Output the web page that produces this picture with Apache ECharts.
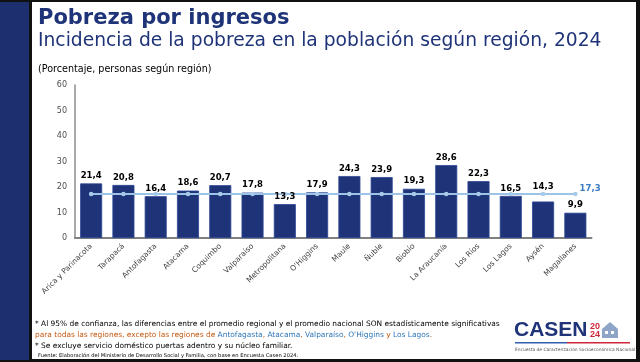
<!DOCTYPE html>
<html>
<head>
<meta charset="utf-8">
<script src="https://cdn.jsdelivr.net/npm/echarts@6/dist/echarts.min.js"></script>
<style>
html,body{margin:0;padding:0;background:#fff;}
#c{width:640px;height:362px;}
</style>
</head>
<body>
<div id="c"></div>
<script>
const categories = ["Arica y Parinacota","Tarapacá","Antofagasta","Atacama","Coquimbo","Valparaíso","Metropolitana","O'Higgins","Maule","Ñuble","Biobío","La Araucanía","Los Ríos","Los Lagos","Aysén","Magallanes"];
const poverty = [21.4,20.8,16.4,18.6,20.7,17.8,13.3,17.9,24.3,23.9,19.3,28.6,22.3,16.5,14.3,9.9];
const nationalAvg = [17.3,17.3,17.3,17.3,17.3,17.3,17.3,17.3,17.3,17.3,17.3,17.3,17.3,17.3,17.3,17.3];
const yTicks = [0,10,20,30,40,50,60];

const fmt = v => String(v.toFixed(1)).replace('.', ',');
const chart = echarts.init(document.getElementById('c'), null, {renderer:'canvas'});
const navy = '#1f3478';
const FONT = '"DejaVu Sans", Verdana, sans-serif';
const F = (sz, w) => (w ? w + ' ' : '') + sz + 'px "DejaVu Sans", Verdana, sans-serif';

// label layer data (same values); Aysén label lifted above the average line as in the source
const labelData = poverty.map((v, i) => i === 14 ? {value:v, label:{offset:[0,-7]}} : v);

chart.setOption({
  animation:false,
  backgroundColor:'#ffffff',
  grid:{left:75, right:48.5, top:85, bottom:124, containLabel:false},
  xAxis:{
    type:'category', data:categories,
    axisLine:{show:true, lineStyle:{color:'#808080', width:2}},
    axisTick:{show:false},
    axisLabel:{rotate:45, interval:0, margin:7, fontSize:7.5, color:'#404040', fontFamily:FONT}
  },
  yAxis:{
    type:'value', min:yTicks[0], max:yTicks[yTicks.length-1], interval:10,
    splitLine:{show:false},
    axisLine:{show:true, lineStyle:{color:'#8c8c8c', width:1.5}},
    axisTick:{show:false},
    axisLabel:{margin:8, fontSize:8, color:'#4d4d4d', fontFamily:FONT}
  },
  series:[
    {
      type:'bar', data:poverty, barWidth:22, z:2,
      itemStyle:{color:navy, borderColor:'#2c4596', borderWidth:0.8},
      label:{show:false}
    },
    {
      type:'line', data:nationalAvg, symbol:'circle', symbolSize:4.5,
      lineStyle:{color:'#9dc3e6', width:2},
      itemStyle:{color:'#a8cbea'},
      z:5,
      label:{show:true, formatter:p=> p.dataIndex===nationalAvg.length-1 ? fmt(p.value) : '',
        position:'right', distance:2, offset:[0,-5], fontSize:8.5, fontWeight:'bold', color:'#3a7cc4', fontFamily:FONT}
    },
    {
      type:'bar', data:labelData, barWidth:22, barGap:'-100%', z:10, silent:true,
      itemStyle:{color:'rgba(0,0,0,0)'},
      label:{show:true, position:'top', distance:3, formatter:p=>fmt(p.value),
        fontSize:8.5, fontWeight:'bold', color:'#000', fontFamily:FONT}
    }
  ],
  graphic:[
    {type:'rect', shape:{x:0,y:0,width:640,height:362}, style:{fill:'#111'}, z:-10, silent:true},
    {type:'rect', shape:{x:0,y:2,width:29,height:358}, style:{fill:'#1d2f6f'}, z:-9, silent:true},
    {type:'rect', shape:{x:32,y:2,width:604,height:357}, style:{fill:'#ffffff'}, z:-9, silent:true},
    {type:'text', left:38, top:8, style:{text:'Pobreza por ingresos', font:F(21,'bold'), fill:'#1f3478'}},
    {type:'text', left:38, top:32, style:{text:'Incidencia de la pobreza en la población según región, 2024', font:F(18.7), fill:'#1f3478'}},
    {type:'text', left:38, top:64, style:{text:'(Porcentaje, personas según región)', font:F(9.6), fill:'#000'}},
    {type:'text', left:35, top:321, style:{text:'* Al 95% de confianza, las diferencias entre el promedio regional y el promedio nacional SON estadísticamente significativas', font:F(7.45), fill:'#000'}},
    {type:'text', left:35, top:332, style:{
      text:'{o|para todas las regiones, excepto las regiones de }{b|Antofagasta}{o|, }{b|Atacama}{o|, }{b|Valparaíso}{o|, }{b|O\'Higgins}{o| y }{b|Los Lagos}{o|.}',
      font:F(7.45),
      rich:{o:{fill:'#c55a11', font:F(7.45)}, b:{fill:'#2e75b6', font:F(7.45)}}
    }},
    {type:'text', left:35, top:343, style:{text:'* Se excluye servicio doméstico puertas adentro y su núcleo familiar.', font:F(7.45), fill:'#000'}},
    {type:'text', left:38, top:353, style:{text:'Fuente: Elaboración del Ministerio de Desarrollo Social y Familia, con base en Encuesta Casen 2024.', font:F(5.2), fill:'#000'}},
    // logo
    {type:'text', left:514, top:320, style:{text:'CASEN', font:'bold 21px "Liberation Sans", Arial, sans-serif', fill:'#1f3478'}},
    {type:'text', left:590, top:322, style:{text:'20', font:'bold 9px "Liberation Sans", Arial, sans-serif', fill:'#d0263a'}},
    {type:'text', left:590, top:330, style:{text:'24', font:'bold 9px "Liberation Sans", Arial, sans-serif', fill:'#d0263a'}},
    {type:'polygon', shape:{points:[[602,329],[610,322],[618,329],[618,338],[602,338]]}, style:{fill:'#8fa5c8'}},
    {type:'rect', shape:{x:605,y:331,width:3,height:3}, style:{fill:'#ffffff'}},
    {type:'rect', shape:{x:611,y:331,width:3,height:3}, style:{fill:'#ffffff'}},
    {type:'rect', shape:{x:515,y:342,width:52,height:1.6}, style:{fill:'#2e5fb0'}},
    {type:'rect', shape:{x:567,y:342,width:63,height:1.6}, style:{fill:'#d0263a'}},
    {type:'text', left:515, top:348, style:{text:'Encuesta de Caracterización Socioeconómica Nacional', font:F(4.4), fill:'#555'}}
  ]
});
</script>
</body>
</html>
